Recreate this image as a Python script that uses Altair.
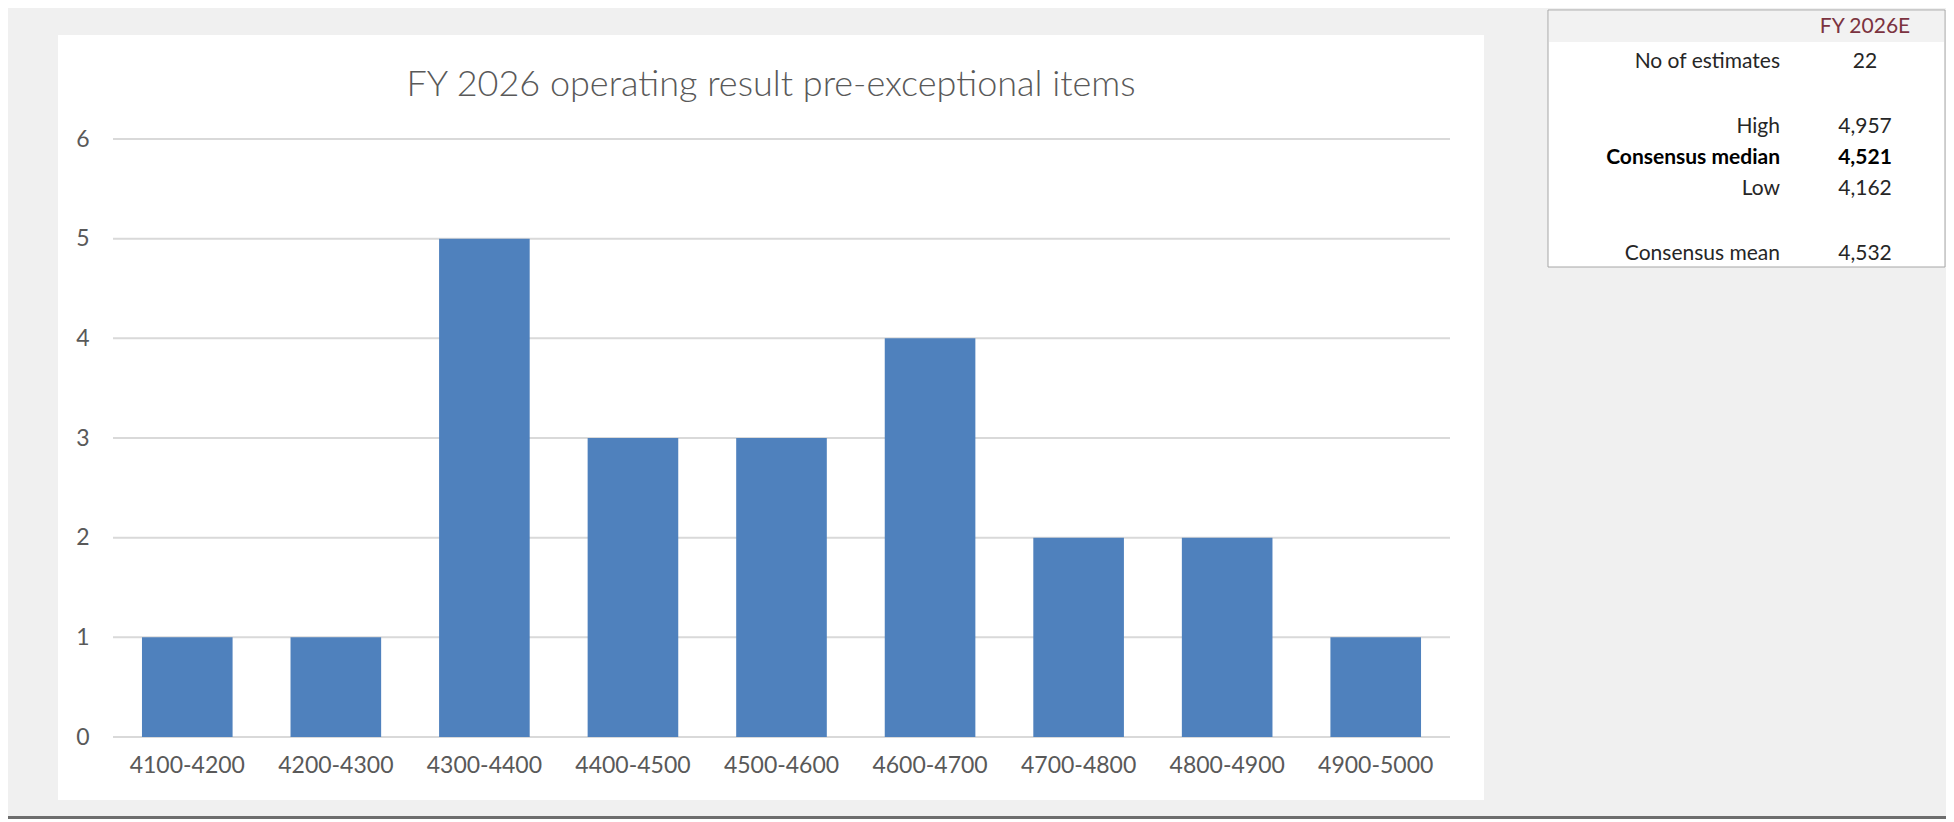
import altair as alt
import pandas as pd

# ---- data ----
bins = ["4100-4200", "4200-4300", "4300-4400", "4400-4500", "4500-4600",
        "4600-4700", "4700-4800", "4800-4900", "4900-5000"]
counts = [1, 1, 5, 3, 3, 4, 2, 2, 1]
y_ticks = [0, 1, 2, 3, 4, 5, 6]
title_text = "FY 2026 operating result pre-exceptional items"
table_header = "FY 2026E"
table_labels = ["No of estimates", "High", "Consensus median", "Low", "Consensus mean"]
table_values = ["22", "4,957", "4,521", "4,162", "4,532"]
table_bold = [False, False, True, False, False]

# ---- layout ----
W, H = 1337, 598
PAD = {"left": 105, "top": 131, "right": 496, "bottom": 82}
FONT = "Lato"
GREY_TXT = "#595959"
row_baselines = [-71, -6, 25, 56, 121]  # pixel baselines relative to plot top

dummy = pd.DataFrame({"a": [0]})
df = pd.DataFrame({"bin": bins, "count": counts})
df_ticks = pd.DataFrame({"t": y_ticks})

yscale = alt.Scale(domain=[0, 6], nice=False, zero=True)
yaxis = alt.Axis(values=y_ticks, domain=False, ticks=False, grid=False,
                 labelPadding=24, labelFont=FONT, labelFontSize=23,
                 labelColor=GREY_TXT, zindex=1)

panel = alt.Chart(dummy).mark_rect(color="white").encode(
    x=alt.value(-55), x2=alt.value(1371), y=alt.value(-104), y2=alt.value(661)
)

bottom_line = alt.Chart(dummy).mark_rect(color="#6d6d6d").encode(
    x=alt.value(-105), x2=alt.value(1834), y=alt.value(677), y2=alt.value(680)
)

grid = alt.Chart(df_ticks).mark_rule(color="#d9d9d9", strokeWidth=2).encode(
    y=alt.Y("t:Q", scale=yscale, title=None, axis=yaxis),
    x=alt.value(0), x2=alt.value(W),
)

bars = alt.Chart(df).mark_bar(color="#4f81bd").encode(
    x=alt.X("bin:N", sort=bins, title=None,
            scale=alt.Scale(paddingInner=0.39, paddingOuter=0.195),
            axis=alt.Axis(labelAngle=0, domain=False, ticks=False, grid=False,
                          labelPadding=17, labelFont=FONT, labelFontSize=23,
                          labelColor=GREY_TXT, zindex=1)),
    y=alt.Y("count:Q", scale=yscale, title=None, axis=yaxis),
)

title = alt.Chart(pd.DataFrame({"t": [title_text]})).mark_text(
    font=FONT, fontSize=36, fontWeight=300, color=GREY_TXT,
    align="center", baseline="alphabetic"
).encode(text="t:N", x=alt.value(658), y=alt.value(-43))

# ---- table ----
tbl_box = alt.Chart(dummy).mark_rect(fill="white", stroke="#a6a6a6", strokeWidth=1).encode(
    x=alt.value(1435), x2=alt.value(1832), y=alt.value(-129), y2=alt.value(128)
)
tbl_head = alt.Chart(dummy).mark_rect(fill="#f2f2f2").encode(
    x=alt.value(1436), x2=alt.value(1831), y=alt.value(-128), y2=alt.value(-97)
)
head_txt = alt.Chart(pd.DataFrame({"t": [table_header]})).mark_text(
    font=FONT, fontSize=21, color="#7b3340", align="center", baseline="alphabetic"
).encode(text="t:N", x=alt.value(1752), y=alt.value(-106))

layers = [panel, bottom_line, grid, bars, title, tbl_box, tbl_head, head_txt]
for lab, val, bold, yb in zip(table_labels, table_values, table_bold, row_baselines):
    d = pd.DataFrame({"lab": [lab], "val": [val]})
    color = "#000000" if bold else "#262626"
    weight = "bold" if bold else "normal"
    layers.append(alt.Chart(d).mark_text(
        font=FONT, fontSize=21, fontWeight=weight, color=color,
        align="right", baseline="alphabetic"
    ).encode(text="lab:N", x=alt.value(1667), y=alt.value(yb)))
    layers.append(alt.Chart(d).mark_text(
        font=FONT, fontSize=21, fontWeight=weight, color=color,
        align="center", baseline="alphabetic"
    ).encode(text="val:N", x=alt.value(1752), y=alt.value(yb)))

chart = alt.layer(*layers).properties(
    width=W, height=H,
    autosize=alt.AutoSizeParams(type="none"),
    padding=PAD,
    background="#f0f0f0",
).configure_view(stroke=None)

chart.save("out.html", embed_options={"renderer": "svg", "actions": False})
